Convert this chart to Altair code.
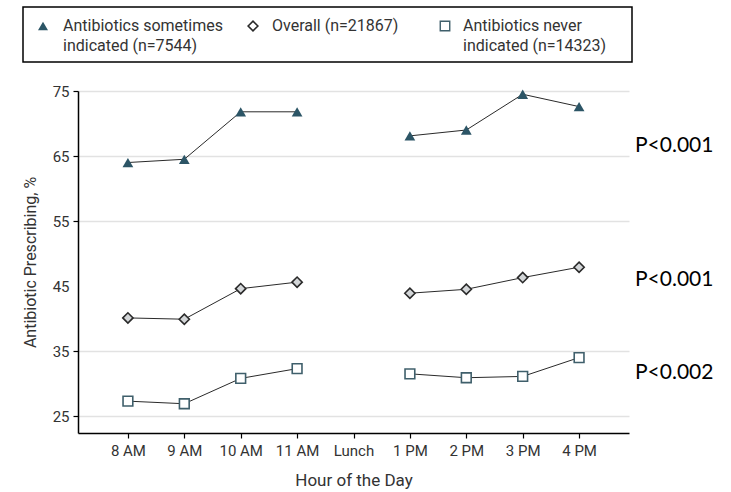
import altair as alt
import pandas as pd

# ---- data ----
hours = ["8 AM", "9 AM", "10 AM", "11 AM", "Lunch", "1 PM", "2 PM", "3 PM", "4 PM"]
data_hours = ["8 AM", "9 AM", "10 AM", "11 AM", "1 PM", "2 PM", "3 PM", "4 PM"]
session = ["AM", "AM", "AM", "AM", "PM", "PM", "PM", "PM"]
sometimes = [64.0, 64.5, 71.8, 71.8, 68.1, 69.0, 74.5, 72.6]
overall = [40.1, 39.9, 44.6, 45.6, 43.9, 44.5, 46.3, 47.9]
never = [27.3, 26.9, 30.8, 32.3, 31.5, 30.9, 31.1, 34.0]
series_names = ["Antibiotics sometimes indicated (n=7544)", "Overall (n=21867)",
                "Antibiotics never indicated (n=14323)"]
legend_text = ["Antibiotics sometimes\nindicated (n=7544)", "Overall (n=21867)",
               "Antibiotics never\nindicated (n=14323)"]
y_ticks = [25, 35, 45, 55, 65, 75]
p_labels = ["P<0.001", "P<0.001", "P<0.002"]
p_label_y = [66.5, 45.9, 31.6]

FONT = "Roboto"
W, H = 551, 342

rows = []
for name, vals in zip(series_names, [sometimes, overall, never]):
    for i, (h, s, v) in enumerate(zip(data_hours, session, vals)):
        rows.append({"hour": h, "session": s, "series": name, "value": v, "idx": i})
df = pd.DataFrame(rows)

x_enc = alt.X("hour:N", scale=alt.Scale(type="point", domain=hours, padding=0.885),
              axis=alt.Axis(title="Hour of the Day", labelAngle=0, domainColor="black",
                            domainWidth=1.5, tickColor="black", tickSize=5, tickWidth=1.2,
                            labelPadding=5, titlePadding=14, grid=False,
                            titleFontSize=17))


def y_enc():
    return alt.Y("value:Q", scale=alt.Scale(domain=[22.4, 75], nice=False, zero=False),
                 axis=alt.Axis(title="Antibiotic Prescribing, %", values=y_ticks,
                               domainColor="black", domainWidth=1.5, tickColor="black",
                               tickSize=5, tickWidth=1.2, labelPadding=4, titlePadding=14,
                               grid=True, gridColor="#e2e2e2", gridWidth=1.5,
                               titleFontSize=16,
                               gridOpacity={"condition": {"test": "datum.value === 45", "value": 0}, "value": 1},
                               tickOpacity={"condition": {"test": "datum.value === 45", "value": 0}, "value": 1}))


lines = alt.Chart(df).mark_line(color="#2a2a2a", strokeWidth=1).encode(
    x=x_enc, y=y_enc(), detail=["series:N", "session:N"], order="idx:Q")

tri = alt.Chart(df[df.series == series_names[0]]).mark_point(
    shape="triangle-up", filled=True, size=115, color="#2c5566", opacity=1).encode(x=x_enc, y=y_enc())
dia = alt.Chart(df[df.series == series_names[1]]).mark_point(
    shape="diamond", filled=True, size=105, fill="#d3d6d8", stroke="#2a2a2a",
    strokeWidth=1.6, opacity=1).encode(x=x_enc, y=y_enc())
sq = alt.Chart(df[df.series == series_names[2]]).mark_point(
    shape="square", filled=True, size=95, fill="white", stroke="#3f5f6b",
    strokeWidth=1.6, opacity=1).encode(x=x_enc, y=y_enc())

pdf = pd.DataFrame({"label": p_labels, "value": p_label_y})
ptext = alt.Chart(pdf).mark_text(align="left", baseline="middle", font="Lato",
                                 fontSize=21, color="black").encode(
    x=alt.value(557), y=y_enc(), text="label:N")

one = pd.DataFrame({"a": [0]})
box = alt.Chart(one).mark_rect(fill="white", stroke="black", strokeWidth=1.5).encode(
    x=alt.value(-55), x2=alt.value(554), y=alt.value(-84), y2=alt.value(-29))

leg = []
sym_x = [-35, 175, 367]
txt_x = [-15, 194, 385]
for k in range(3):
    if k == 0:
        m = alt.Chart(one).mark_point(shape="triangle-up", filled=True, size=100,
                                      color="#2c5566", opacity=1)
    elif k == 1:
        m = alt.Chart(one).mark_point(shape="diamond", filled=True, size=95, fill="white",
                                      stroke="#2a2a2a", strokeWidth=1.6, opacity=1)
    else:
        m = alt.Chart(one).mark_point(shape="square", filled=True, size=90, fill="white",
                                      stroke="#3f5f6b", strokeWidth=1.4, opacity=1)
    leg.append(m.encode(x=alt.value(sym_x[k]), y=alt.value(-65)))
    tdf = pd.DataFrame({"t": [legend_text[k]]})
    leg.append(alt.Chart(tdf).mark_text(align="left", baseline="middle", lineBreak="\n",
                                        lineHeight=20, font=FONT, fontSize=16,
                                        color="#333333").encode(
        x=alt.value(txt_x[k]), y=alt.value(-65), text="t:N"))

chart = alt.layer(box, *leg, lines, tri, dia, sq, ptext).properties(
    width=W, height=H,
    padding={"left": 78, "top": 91, "right": 731 - 78 - W, "bottom": 492 - 91 - H},
    autosize=alt.AutoSizeParams(type="none"),
).configure_view(stroke=None).configure_axis(
    labelFont=FONT, labelFontSize=15, labelColor="#333333",
    titleFont=FONT, titleColor="#333333", titleFontWeight="normal")

chart.save("out.html", embed_options={"renderer": "svg", "actions": False})
